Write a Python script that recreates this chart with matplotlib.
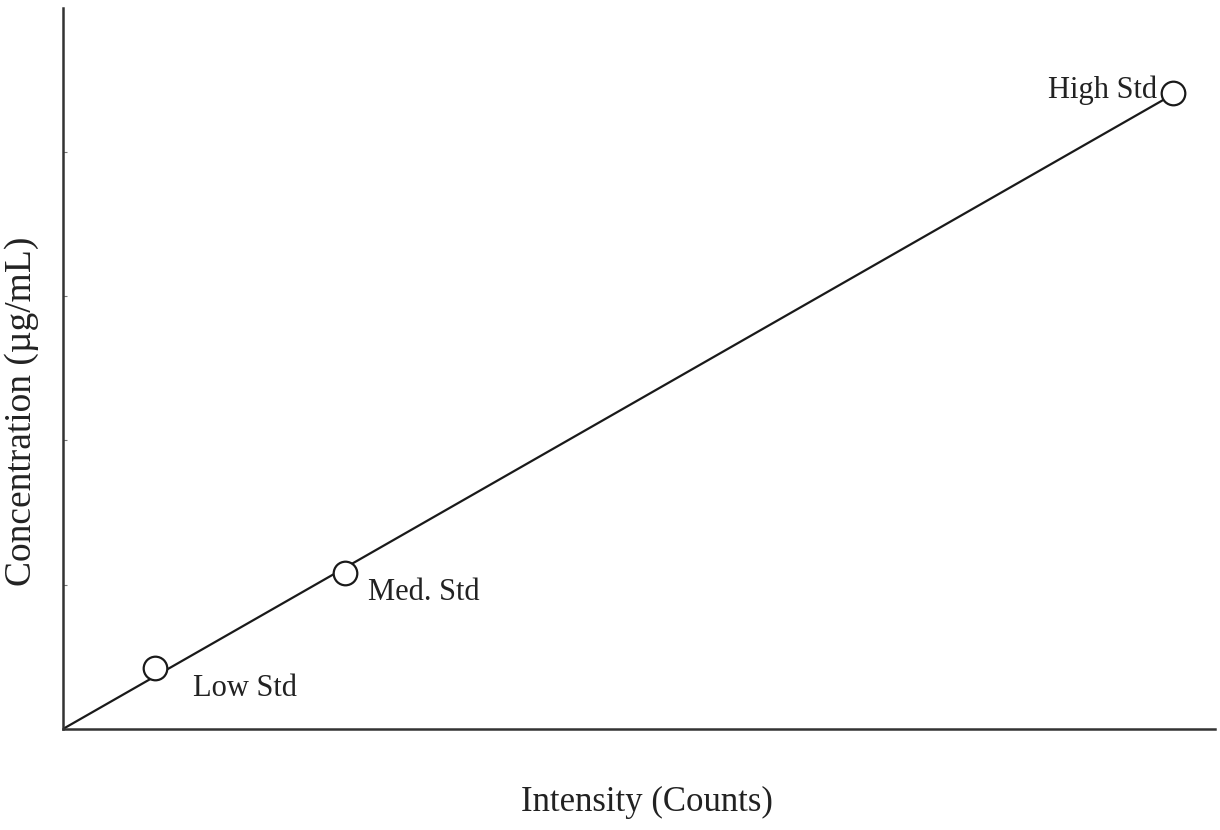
import matplotlib.pyplot as plt

# calibration standards
std_names = ['Low Std', 'Med. Std', 'High Std']
intensity = [8.0, 24.5, 96.4]
concentration = [0.42, 1.08, 4.41]

# fitted calibration line (through origin)
fit_x = [0.0, 96.4]
fit_y = [0.0, 4.40]

plt.rcParams['font.family'] = ['Liberation Serif', 'DejaVu Serif']

fig = plt.figure(figsize=(12.2, 8.3), dpi=100)
ax = fig.add_axes([0.0516, 0.1217, 0.944, 0.869])

ax.plot(fit_x, fit_y, color='#1a1a1a', linewidth=1.6, zorder=2)
ax.plot(intensity, concentration, linestyle='none', marker='o', markersize=17,
        markerfacecolor='white', markeredgecolor='#1a1a1a', markeredgewidth=1.6, zorder=3)

# label offsets in pixels
offsets = [(38, -20), (23, -19), (-16, 3)]
aligns = ['left', 'left', 'right']
for name, x, y, off, ha in zip(std_names, intensity, concentration, offsets, aligns):
    ax.annotate(name, (x, y), xytext=off, textcoords='offset pixels',
                ha=ha, va='center', fontsize=22, color='#222222')

ax.set_xlim(0, 100)
ax.set_ylim(0, 5)
ax.spines['top'].set_visible(False)
ax.spines['right'].set_visible(False)
ax.spines['left'].set_linewidth(1.8)
ax.spines['bottom'].set_linewidth(1.8)
ax.spines['left'].set_color('#333333')
ax.spines['bottom'].set_color('#333333')

ax.set_xticks([])
ax.set_yticks([1, 2, 3, 4])
ax.set_yticklabels([])
ax.tick_params(axis='y', direction='in', length=3, width=0.8, colors='#777777')

fig.text(0.53, 0.033, 'Intensity (Counts)', ha='center', va='center', fontsize=25, color='#222222')
fig.text(0.018, 0.505, 'Concentration (µg/mL)', ha='center', va='center', rotation=90,
         fontsize=27, color='#222222')

plt.savefig('out.png')
